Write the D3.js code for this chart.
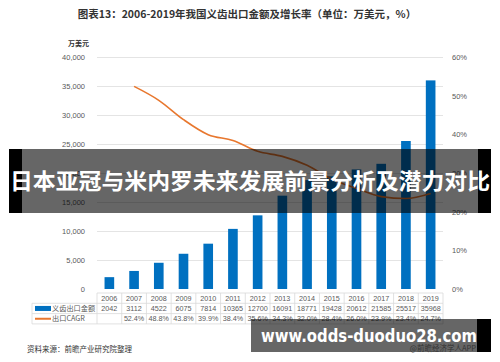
<!DOCTYPE html>
<html lang="zh">
<head>
<meta charset="UTF-8">
<title>义齿出口金额及增长率</title>
<script src="https://d3js.org/d3.v7.min.js"></script>
<style>
  html, body { margin: 0; padding: 0; background: #fff; }
  svg { display: block; font-family: "Noto Sans CJK SC", "Noto Sans", sans-serif; }
</style>
</head>
<body>
<svg id="chart" width="500" height="362"></svg>
<script>
// data
const years = ["2006","2007","2008","2009","2010","2011","2012","2013","2014","2015","2016","2017","2018","2019"];
const exportValues = [2042, 3112, 4522, 6075, 7814, 10365, 12700, 16091, 18771, 19428, 20612, 21585, 25517, 35968];
const cagr = [null, 52.4, 48.8, 43.8, 39.9, 38.4, 35.6, 34.3, 32.0, 28.4, 26.0, 23.9, 23.4, 24.7];
const leftTicks = [0, 5000, 10000, 15000, 20000, 25000, 30000, 35000, 40000];
const rightTicks = [0, 10, 20, 30, 40, 50, 60];

const svg = d3.select("#chart");
const plotL = 97, plotR = 443, plotT = 57, plotB = 289;
const blue = "#0070c0", orange = "#e8772e", grey = "#595959";

const x = d3.scaleBand().domain(years).range([plotL, plotR]).padding(0);
const yL = d3.scaleLinear().domain([0, 40000]).range([plotB, plotT]);
const yR = d3.scaleLinear().domain([0, 60]).range([plotB, plotT]);

// title
svg.append("text")
  .attr("x", 247).attr("y", 18)
  .attr("text-anchor", "middle")
  .attr("font-size", 10.5).attr("font-weight", "bold").attr("fill", "#333")
  .text("图表13：2006-2019年我国义齿出口金额及增长率（单位：万美元，%）");

svg.append("text")
  .attr("x", 68).attr("y", 46)
  .attr("font-size", 7).attr("font-weight", "bold").attr("fill", "#333")
  .text("万美元");

// gridlines
svg.append("g").selectAll("line")
  .data(leftTicks.slice(1))
  .join("line")
    .attr("x1", plotL).attr("x2", plotR)
    .attr("y1", d => yL(d) + 0.5).attr("y2", d => yL(d) + 0.5)
    .attr("stroke", "#e4e4e4");

// left axis
svg.append("g")
  .attr("transform", `translate(${plotL - 9},0)`)
  .call(d3.axisLeft(yL).tickValues(leftTicks).tickSize(0).tickFormat(d3.format(",")))
  .call(g => g.select(".domain").remove())
  .call(g => g.selectAll("text").attr("fill", grey).attr("font-size", 7.5).attr("font-family", "Liberation Sans, Arial, sans-serif"));

// right axis
svg.append("g")
  .attr("transform", `translate(${plotR + 6},0)`)
  .call(d3.axisRight(yR).tickValues(rightTicks).tickSize(0).tickFormat(d => d + "%"))
  .call(g => g.select(".domain").remove())
  .call(g => g.selectAll("text").attr("fill", grey).attr("font-size", 7.5).attr("font-family", "Liberation Sans, Arial, sans-serif"));

// bars
const barW = x.bandwidth() * 0.39;
svg.append("g").selectAll("rect")
  .data(exportValues)
  .join("rect")
    .attr("x", (d, i) => x(years[i]) + (x.bandwidth() - barW) / 2)
    .attr("y", d => yL(d))
    .attr("width", barW)
    .attr("height", d => plotB - yL(d))
    .attr("fill", blue);

// CAGR line
const line = d3.line()
  .defined(d => d != null)
  .x((d, i) => x(years[i]) + x.bandwidth() / 2)
  .y(d => yR(d))
  .curve(d3.curveMonotoneX);
svg.append("path")
  .attr("d", line(cagr))
  .attr("fill", "none")
  .attr("stroke", orange)
  .attr("stroke-width", 1.6);

// data table
const tTop = 293, rowH = 10.3, legX = 32;
const tbl = svg.append("g").attr("font-family", "Liberation Sans, Arial, sans-serif").attr("font-size", 7.2).attr("fill", grey);
const lineCol = "#d9d9d9";
[0, 1, 2, 3].forEach(r => {
  tbl.append("line")
    .attr("x1", r === 0 ? plotL : legX).attr("x2", plotR)
    .attr("y1", tTop + r * rowH).attr("y2", tTop + r * rowH)
    .attr("stroke", lineCol).attr("stroke-width", 0.8);
});
years.concat(["end"]).forEach((y, i) => {
  const xx = i < years.length ? x(y) : plotR;
  tbl.append("line")
    .attr("x1", xx).attr("x2", xx)
    .attr("y1", tTop).attr("y2", tTop + 3 * rowH)
    .attr("stroke", lineCol).attr("stroke-width", 0.8);
});
tbl.append("line")
  .attr("x1", legX).attr("x2", legX)
  .attr("y1", tTop + rowH).attr("y2", tTop + 3 * rowH)
  .attr("stroke", lineCol).attr("stroke-width", 0.8);

const cx = y => x(y) + x.bandwidth() / 2;
tbl.append("g").selectAll("text").data(years).join("text")
  .attr("x", cx).attr("y", tTop + rowH * 0.5 + 2.6)
  .attr("text-anchor", "middle").text(d => d);
tbl.append("g").selectAll("text").data(exportValues).join("text")
  .attr("x", (d, i) => cx(years[i])).attr("y", tTop + rowH * 1.5 + 2.6)
  .attr("text-anchor", "middle").text(d => d);
tbl.append("g").selectAll("text").data(cagr).join("text")
  .attr("x", (d, i) => cx(years[i])).attr("y", tTop + rowH * 2.5 + 2.6)
  .attr("text-anchor", "middle").text(d => d == null ? "" : d.toFixed(1) + "%");

// legend cells
tbl.append("rect").attr("x", legX + 3).attr("y", tTop + rowH * 1.5 - 2.5).attr("width", 16).attr("height", 5).attr("fill", blue);
tbl.append("text").attr("x", legX + 20).attr("y", tTop + rowH * 1.5 + 2.6)
  .attr("font-family", "Noto Sans CJK SC, sans-serif").text("义齿出口金额");
tbl.append("line").attr("x1", legX + 3).attr("x2", legX + 19)
  .attr("y1", tTop + rowH * 2.5).attr("y2", tTop + rowH * 2.5)
  .attr("stroke", orange).attr("stroke-width", 2);
tbl.append("text").attr("x", legX + 20).attr("y", tTop + rowH * 2.5 + 2.6)
  .attr("font-family", "Noto Sans CJK SC, sans-serif").text("出口CAGR");

// source
svg.append("text")
  .attr("x", 27).attr("y", 352)
  .attr("font-size", 7.5).attr("fill", "#333")
  .text("资料来源：前瞻产业研究院整理");

// headline overlay band (semi-transparent, chart shows through)
svg.append("rect").attr("x", 9).attr("y", 149).attr("width", 13).attr("height", 64).attr("fill", "#000");
svg.append("rect").attr("x", 478).attr("y", 149).attr("width", 13).attr("height", 64).attr("fill", "#000");
svg.append("rect").attr("x", 22).attr("y", 149).attr("width", 456).attr("height", 64).attr("fill", "#000").attr("fill-opacity", 0.6);
svg.append("text")
  .attr("x", 250).attr("y", 189)
  .attr("text-anchor", "middle")
  .attr("font-size", 22).attr("font-weight", "bold").attr("fill", "#fff")
  .attr("textLength", 480).attr("lengthAdjust", "spacingAndGlyphs")
  .text("日本亚冠与米内罗未来发展前景分析及潜力对比");

// footer overlay band
svg.append("rect").attr("x", 477).attr("y", 319).attr("width", 14).attr("height", 33).attr("fill", "#000");
svg.append("rect").attr("x", 251).attr("y", 319).attr("width", 226).attr("height", 33).attr("fill", "#000").attr("fill-opacity", 0.6);
svg.append("text")
  .attr("x", 261).attr("y", 342)
  .attr("font-family", "DejaVu Sans, sans-serif")
  .attr("font-size", 17).attr("font-weight", "bold").attr("fill", "#fff")
  .attr("textLength", 216).attr("lengthAdjust", "spacingAndGlyphs")
  .text("www.odds-duoduo28.com");
svg.append("text")
  .attr("x", 476).attr("y", 351)
  .attr("text-anchor", "end")
  .attr("font-size", 7.5).attr("fill", "#333")
  .text("@前瞻经济学人APP");
</script>
</body>
</html>
